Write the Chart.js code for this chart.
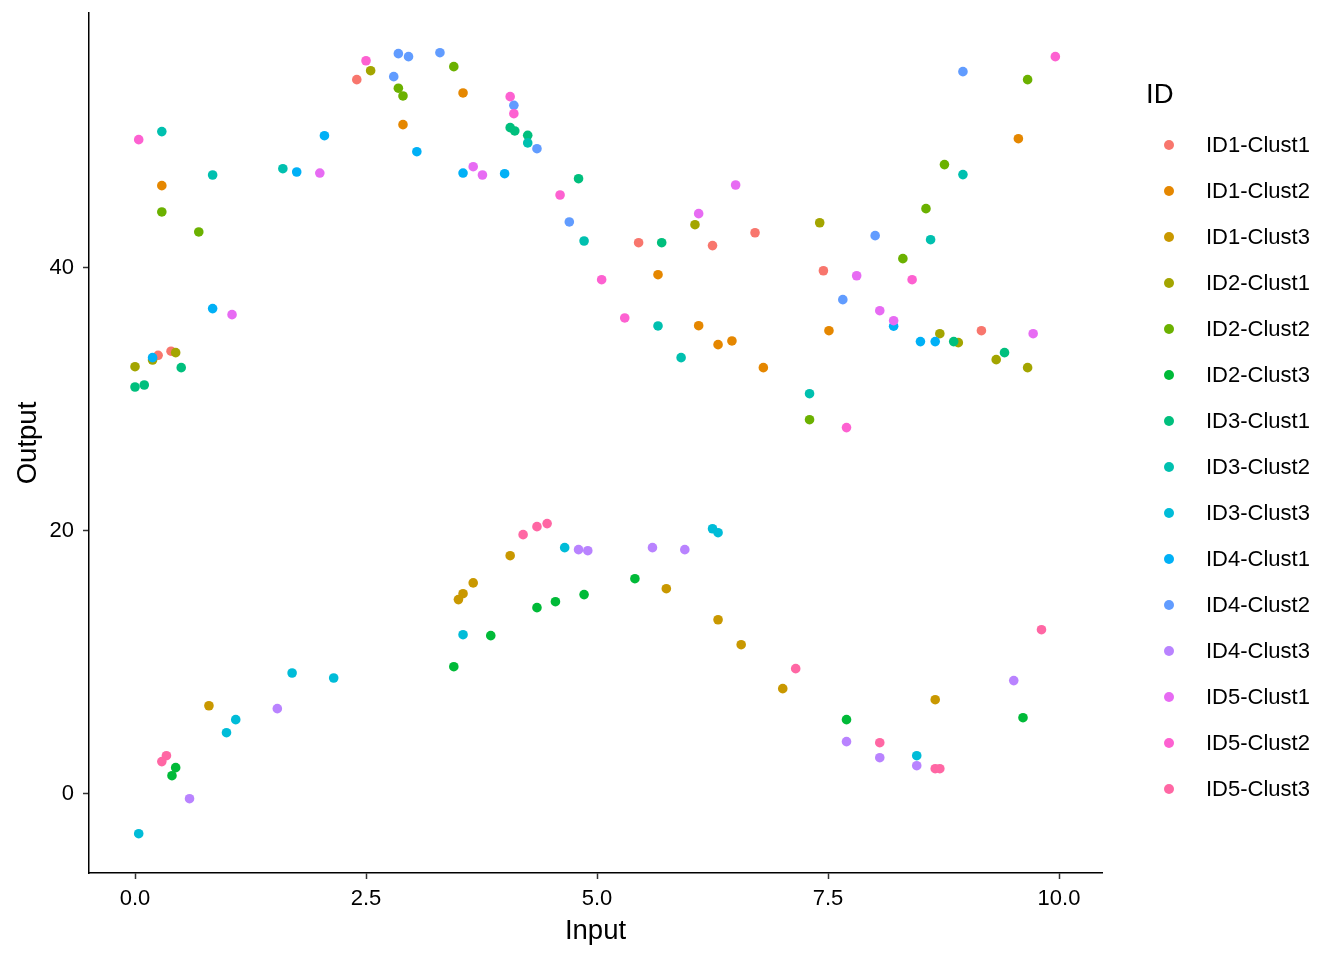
<!DOCTYPE html>
<html>
<head>
<meta charset="utf-8">
<script src="https://cdn.jsdelivr.net/npm/chart.js@4.4.1/dist/chart.umd.min.js"></script>
<style>
html,body{margin:0;padding:0;background:#fff;}
#wrap{position:relative;width:1344px;height:960px;overflow:hidden;}
#c{position:absolute;left:0;top:0;}
.lg{position:absolute;font-family:"Liberation Sans",Arial,sans-serif;color:#000;white-space:nowrap;}
.dot{position:absolute;width:10px;height:10px;border-radius:50%;}
</style>
</head>
<body>
<div id="wrap"><canvas id="c" width="1344" height="960"></canvas><div id="legend"></div></div>
<script>
// ---------- data ----------
const groupNames = ["ID1-Clust1","ID1-Clust2","ID1-Clust3","ID2-Clust1","ID2-Clust2","ID2-Clust3",
  "ID3-Clust1","ID3-Clust2","ID3-Clust3","ID4-Clust1","ID4-Clust2","ID4-Clust3",
  "ID5-Clust1","ID5-Clust2","ID5-Clust3"];
const groupColors = ["#F8766D","#E58700","#C99800","#A3A500","#6BB100","#00BA38","#00BF7D","#00C0AF",
  "#00BCD8","#00B0F6","#619CFF","#B983FF","#E76BF3","#FD61D1","#FF67A4"];

const ID1_Clust1 = [[2.40,54.32],[5.45,41.92],[6.25,41.70],[6.71,42.68],[7.45,39.79],[0.25,33.36],[0.39,33.67],[9.16,35.23]];
const ID1_Clust2 = [[2.90,50.90],[0.29,46.26],[3.55,53.31],[5.66,39.49],[9.56,49.83],[6.10,35.61],[6.31,34.17],[6.46,34.45],[6.80,32.42],[7.51,35.23]];
const ID1_Clust3 = [[4.06,18.12],[3.66,16.05],[5.75,15.61],[3.55,15.23],[3.50,14.78],[6.31,13.25],[6.56,11.35],[0.80,6.71],[7.01,8.01],[8.66,7.17]];
const ID2_Clust1 = [[2.55,55.00],[6.06,43.29],[7.41,43.44],[0.19,33.00],[0.44,33.56],[0.00,32.49],[8.71,35.00],[8.91,34.32],[9.32,33.03],[9.66,32.42]];
const ID2_Clust2 = [[2.85,53.67],[2.90,53.08],[0.29,44.26],[0.69,42.74],[3.45,55.31],[9.66,54.32],[8.76,47.86],[8.56,44.51],[8.31,40.71],[7.30,28.46]];
const ID2_Clust3 = [[5.41,16.37],[0.44,2.00],[0.40,1.39],[4.35,14.17],[4.55,14.62],[4.86,15.16],[3.85,12.04],[3.45,9.68],[7.70,5.65],[9.61,5.80]];
const ID3_Clust1 = [[4.06,50.67],[4.11,50.42],[4.25,50.09],[4.80,46.79],[5.70,41.92],[0.50,32.42],[0.00,30.95],[0.10,31.10],[8.86,34.40],[9.41,33.56]];
const ID3_Clust2 = [[0.29,50.37],[0.84,47.07],[1.60,47.55],[4.25,49.51],[4.86,42.05],[8.96,47.10],[8.61,42.15],[5.66,35.59],[5.91,33.18],[7.30,30.44]];
const ID3_Clust3 = [[4.65,18.73],[6.25,20.17],[6.31,19.87],[1.70,9.20],[2.15,8.82],[1.09,5.65],[0.99,4.66],[0.04,-3.02],[3.55,12.11],[8.46,2.91]];
const ID4_Clust1 = [[3.05,48.84],[2.05,50.06],[1.75,47.30],[3.55,47.22],[4.00,47.17],[0.84,36.91],[0.19,33.18],[8.21,35.57],[8.50,34.40],[8.66,34.40]];
const ID4_Clust2 = [[2.85,56.30],[2.96,56.07],[2.80,54.55],[3.30,56.37],[4.10,52.37],[4.35,49.07],[4.70,43.50],[8.96,54.93],[8.01,42.46],[7.66,37.59]];
const ID4_Clust3 = [[4.80,18.58],[4.90,18.50],[5.60,18.73],[5.95,18.58],[1.54,6.49],[0.59,-0.36],[9.51,8.62],[7.70,3.98],[8.06,2.76],[8.46,2.15]];
const ID5_Clust1 = [[2.00,47.22],[3.66,47.70],[3.76,47.07],[6.10,44.13],[6.50,46.31],[7.81,39.41],[1.05,36.45],[8.06,36.75],[8.21,35.99],[9.72,35.00]];
const ID5_Clust2 = [[2.50,55.76],[0.04,49.76],[4.06,53.03],[4.10,51.73],[4.60,45.55],[5.05,39.11],[9.96,56.07],[8.41,39.11],[5.30,36.20],[7.70,27.86]];
const ID5_Clust3 = [[4.20,19.72],[4.35,20.33],[4.46,20.56],[0.34,2.91],[0.29,2.46],[9.81,12.49],[7.15,9.53],[8.06,3.90],[8.66,1.92],[8.71,1.92]];

const groupData = [ID1_Clust1,ID1_Clust2,ID1_Clust3,ID2_Clust1,ID2_Clust2,ID2_Clust3,ID3_Clust1,ID3_Clust2,ID3_Clust3,
  ID4_Clust1,ID4_Clust2,ID4_Clust3,ID5_Clust1,ID5_Clust2,ID5_Clust3];

const xTicks = [0, 2.5, 5, 7.5, 10];
const xTickLabels = ["0.0","2.5","5.0","7.5","10.0"];
const yTicks = [0, 20, 40];
const yTickLabels = ["0","20","40"];
const xTitle = "Input", yTitle = "Output", legendTitle = "ID";
// ------------------------------------------------------------

const FONT = '"Liberation Sans", Arial, sans-serif';
const TICK_SIZE = 22, TITLE_SIZE = 27.5;

const datasets = groupNames.map((name, i) => ({
  label: name,
  data: groupData[i].map(p => ({x: p[0], y: p[1]})),
  backgroundColor: groupColors[i],
  borderWidth: 0,
  pointRadius: 4.8,
  pointHoverRadius: 4.8,
  order: groupNames.length - i
}));

const axisCommon = {
  type: 'linear',
  grid: {display: true, drawOnChartArea: false, drawTicks: true, tickLength: 6, tickColor: '#333', tickWidth: 1.5},
  border: {display: true, color: '#000', width: 1.5}
};

function noPad(s) { s.paddingTop = 0; s.paddingBottom = 0; s.paddingLeft = 0; s.paddingRight = 0; }

new Chart(document.getElementById('c'), {
  type: 'scatter',
  data: {datasets},
  options: {
    responsive: false,
    animation: false,
    devicePixelRatio: 1,
    layout: {padding: {left: 0, top: 13, right: 242, bottom: 0}},
    plugins: {legend: {display: false}, tooltip: {enabled: false}},
    scales: {
      x: Object.assign({}, axisCommon, {
        min: -0.498, max: 10.465,
        afterFit(s) { s.height = 87; noPad(s); },
        afterBuildTicks(s) { s.ticks = xTicks.map(v => ({value: v})); },
        ticks: {
          callback: (v) => xTickLabels[xTicks.indexOf(v)],
          color: '#000', font: {family: FONT, size: TICK_SIZE},
          padding: 7, maxRotation: 0, autoSkip: false
        },
        title: {display: true, text: xTitle, color: '#000', font: {family: FONT, size: TITLE_SIZE},
          padding: {top: 0, bottom: 12}}
      }),
      y: Object.assign({}, axisCommon, {
        min: -6.01, max: 59.39,
        afterFit(s) { s.width = 89; noPad(s); },
        afterBuildTicks(s) { s.ticks = yTicks.map(v => ({value: v})); },
        ticks: {
          callback: (v) => yTickLabels[yTicks.indexOf(v)],
          color: '#000', font: {family: FONT, size: TICK_SIZE},
          padding: 9, autoSkip: false
        },
        title: {display: true, text: yTitle, color: '#000', font: {family: FONT, size: TITLE_SIZE},
          padding: {top: 12, bottom: 0}}
      })
    }
  }
});

// legend (HTML, built from the same arrays)
const lg = document.getElementById('legend');
const t = document.createElement('div');
t.className = 'lg';
t.textContent = legendTitle;
t.style.cssText = `left:1146px;top:${93 - TITLE_SIZE * 0.6}px;font-size:${TITLE_SIZE}px;line-height:${TITLE_SIZE * 1.2}px;`;
lg.appendChild(t);
groupNames.forEach((name, i) => {
  const cy = 145 + 46 * i;
  const d = document.createElement('div');
  d.className = 'dot';
  d.style.cssText = `left:1164px;top:${cy - 5}px;background:${groupColors[i]};`;
  lg.appendChild(d);
  const s = document.createElement('div');
  s.className = 'lg';
  s.textContent = name;
  s.style.cssText = `left:1206px;top:${cy - TICK_SIZE * 0.6}px;font-size:${TICK_SIZE}px;line-height:${TICK_SIZE * 1.2}px;`;
  lg.appendChild(s);
});
</script>
</body>
</html>
